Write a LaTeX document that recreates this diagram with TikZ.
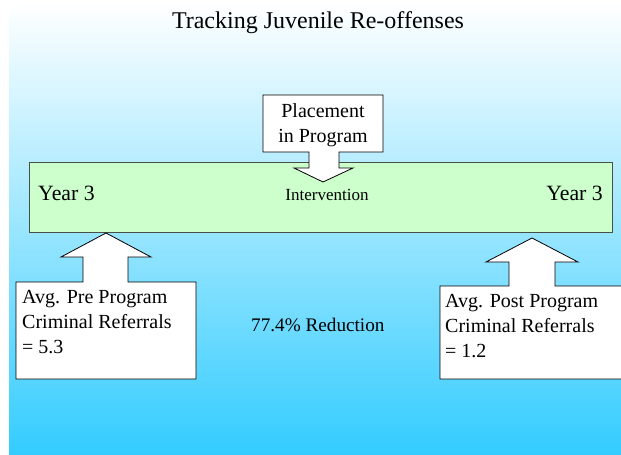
\documentclass[tikz,border=0pt]{standalone}
\usepackage{fontspec}
\setmainfont{Liberation Serif}
\usepackage{tikz}
\usetikzlibrary{positioning}

\definecolor{skymid}{RGB}{194,232,252}
\definecolor{skybot}{RGB}{51,204,255}
\definecolor{barfill}{RGB}{204,255,204}
\definecolor{barline}{RGB}{70,80,70}

\tikzset{
  callout/.style={draw=black, fill=white, line width=0.8pt, line join=miter},
  boxtext/.style={inner sep=0, align=left, font=\fontsize{20}{25}\selectfont},
  yeartext/.style={inner sep=0, font=\fontsize{21.8}{26}\selectfont}
}

\begin{document}
\begin{tikzpicture}[x=1pt, y=-1pt]
  \useasboundingbox (0,0) rectangle (621,455);
  % background
  \fill[top color=white, middle color=skymid, bottom color=skybot] (9,3) rectangle (621,455);

  \node (title) [inner sep=0, anchor=base, font=\fontsize{24}{28}\selectfont] at (318,28) {Tracking Juvenile Re-offenses};

  % time line
  \node (bar) [draw=barline, fill=barfill, line width=0.8pt, anchor=north west, inner sep=0,
               minimum width=583pt, minimum height=70pt] at (29,162) {};
  \node (yearA) [yeartext, anchor=base west] at (38,200) {Year 3};
  \node (yearB) [yeartext, anchor=base east] at (603,200) {Year 3};
  \node (interv) [inner sep=0, anchor=base, font=\fontsize{17}{20}\selectfont] at (327,200) {Intervention};

  % placement callout
  \draw[callout] (263,95) -- (383,95) -- (383,152) -- (339,152) -- (339,168) -- (353,168)
    -- (323,182) -- (294,168) -- (309,168) -- (309,152) -- (263,152) -- cycle;
  \node (place) [boxtext, align=center, anchor=base] at (323,142) {Placement\\in Program};

  % pre program callout
  \draw[callout] (16,379) -- (16,282) -- (83,282) -- (83,257) -- (61,257) -- (106,233)
    -- (151,257) -- (128,257) -- (128,282) -- (196,282) -- (196,379) -- cycle;
  \node (pre) [boxtext, anchor=base west] at (22,353) {Avg. Pre Program\\Criminal Referrals\\= 5.3};

  % post program callout
  \draw[callout] (440,379) -- (440,286) -- (509,286) -- (509,262) -- (486,262) -- (532,238)
    -- (578,262) -- (555,262) -- (555,286) -- (630,286) -- (630,379) -- cycle;
  \node (post) [boxtext, anchor=base west] at (445,357) {Avg. Post Program\\Criminal Referrals\\= 1.2};

  \node (cut) [inner sep=0, anchor=base west, font=\fontsize{19.2}{23}\selectfont] at (251,331) {77.4\% Reduction};
\end{tikzpicture}
\end{document}
